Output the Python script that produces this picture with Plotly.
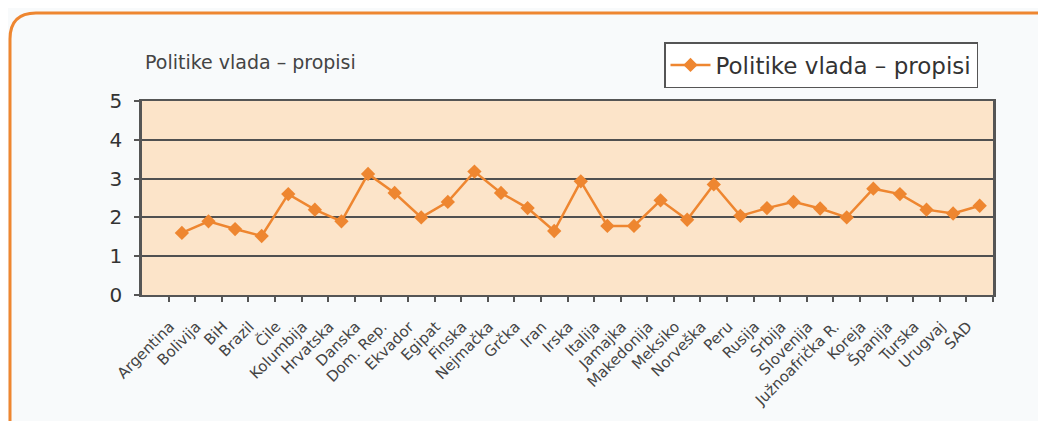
import plotly.graph_objects as go

categories = ["Argentina", "Bolivija", "BiH", "Brazil", "Čile", "Kolumbija", "Hrvatska",
              "Danska", "Dom. Rep.", "Ekvador", "Egipat", "Finska", "Nejmačka", "Grčka",
              "Iran", "Irska", "Italija", "Jamajka", "Makedonija", "Meksiko", "Norveška",
              "Peru", "Rusija", "Srbija", "Slovenija", "Južnoafrička R.", "Koreja",
              "Španija", "Turska", "Urugvaj", "SAD"]
values = [1.6, 1.9, 1.7, 1.52, 2.6, 2.2, 1.9,
          3.12, 2.63, 2.0, 2.4, 3.18, 2.63, 2.24,
          1.65, 2.93, 1.78, 1.78, 2.44, 1.94, 2.85,
          2.04, 2.24, 2.4, 2.23, 2.0, 2.74,
          2.6, 2.2, 2.1, 2.3]
series_name = "Politike vlada – propisi"
y_ticks = [0, 1, 2, 3, 4, 5]

# page has an 8px body margin; work in page coordinates and shift
OFF = 8
W, H = 1046 - OFF, 421 - OFF
L, R, T, B = 142 - OFF, 1046 - 993, 101 - OFF, 421 - 295
PW, PH = W - L - R, H - T - B


def px(x):
    return (x - OFF - L) / PW


def py(y):
    return (H - B - (y - OFF)) / PH


ORANGE = "#EE8630"
FONT = "DejaVu Sans, Arial, sans-serif"

fig = go.Figure()
fig.add_trace(go.Scatter(
    x=categories, y=values, name=series_name, mode="lines+markers",
    line=dict(color=ORANGE, width=2.5),
    marker=dict(symbol="diamond", size=11, color=ORANGE),
))

# rounded orange frame
x0, y0, x1, y1, r = 10, 13, 1044, 440, 26
path = (f"M {px(x0)},{py(y1)} L {px(x0)},{py(y0 + r)} "
        f"Q {px(x0)},{py(y0)} {px(x0 + r)},{py(y0)} "
        f"L {px(x1 - 6)},{py(y0)} Q {px(x1)},{py(y0)} {px(x1)},{py(y0 + 6)}")
fig.add_shape(type="path", path=path, xref="paper", yref="paper",
              line=dict(color=ORANGE, width=3), layer="above")

fig.add_annotation(text=series_name, xref="paper", yref="paper",
                   x=px(143), y=py(62), xanchor="left", yanchor="middle",
                   showarrow=False, font=dict(family=FONT, size=19, color="#444"))

fig.update_layout(
    width=W, height=H,
    margin=dict(l=L, r=R, t=T, b=B),
    paper_bgcolor="#F8FAFB",
    plot_bgcolor="#FCE4C9",
    font=dict(family=FONT, color="#333"),
    showlegend=True,
    legend=dict(x=px(664), y=py(42), xanchor="left", yanchor="top",
                bgcolor="white", bordercolor="#555", borderwidth=1.5,
                font=dict(family=FONT, size=23, color="#333"),
                itemwidth=40, tracegroupgap=0),
)
fig.update_xaxes(
    type="category", range=[-1.5, len(categories) - 0.5],
    tickangle=-45, tickson="boundaries", ticks="outside", ticklen=5,
    tickcolor="#555", tickwidth=1.5,
    ticklabelstandoff=15, ticklabelshift=-12,
    showline=True, linecolor="#555", linewidth=2, mirror=True,
    showgrid=False, tickfont=dict(family=FONT, size=15, color="#444"),
)
fig.update_yaxes(
    range=[0, 5], tickvals=y_ticks, ticks="outside", ticklen=5,
    tickcolor="#555", tickwidth=1.5, ticklabelstandoff=8,
    showline=True, linecolor="#555", linewidth=2.5, mirror=True,
    showgrid=True, gridcolor="#505050", gridwidth=2.2,
    zeroline=False, tickfont=dict(family=FONT, size=20, color="#333"),
)

fig.write_html("out.html")
